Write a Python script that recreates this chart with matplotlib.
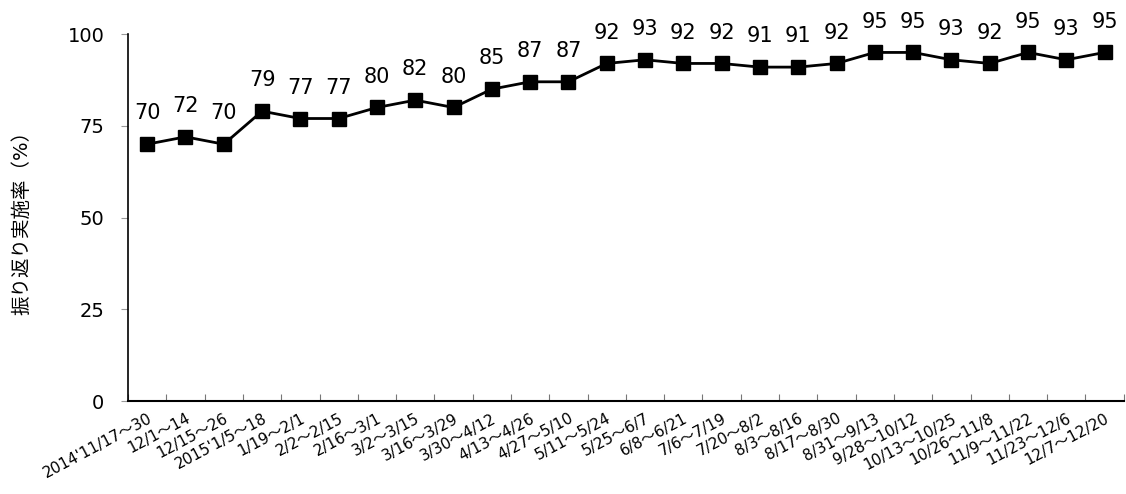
import matplotlib
matplotlib.use("Agg")
import matplotlib.pyplot as plt

plt.rcParams["font.family"] = ["DejaVu Sans", "Noto Sans CJK JP"]

# two-week periods and the share of reviews carried out
periods = ["2014'11/17～30", "12/1～14", "12/15～26", "2015'1/5～18", "1/19～2/1",
           "2/2～2/15", "2/16～3/1", "3/2～3/15", "3/16～3/29", "3/30～4/12",
           "4/13～4/26", "4/27～5/10", "5/11～5/24", "5/25～6/7", "6/8～6/21",
           "7/6～7/19", "7/20～8/2", "8/3～8/16", "8/17～8/30", "8/31～9/13",
           "9/28～10/12", "10/13～10/25", "10/26～11/8", "11/9～11/22",
           "11/23～12/6", "12/7～12/20"]
rate = [70, 72, 70, 79, 77, 77, 80, 82, 80, 85, 87, 87, 92, 93, 92, 92, 91, 91,
        92, 95, 95, 93, 92, 95, 93, 95]

fig = plt.figure(figsize=(11.26, 4.94), dpi=100)
ax = fig.add_axes([0.1137, 0.188, 0.8843, 0.743])

x = list(range(len(periods)))
ax.plot(x, rate, color="black", lw=2, marker="s", markersize=10)
for xi, v in zip(x, rate):
    ax.annotate(str(v), (xi, v), xytext=(0, 15), textcoords="offset points",
                ha="center", va="bottom", fontsize=15)

ax.set_xlim(-0.5, len(periods) - 0.5)
ax.set_ylim(0, 100)
ax.set_yticks([0, 25, 50, 75, 100])
ax.tick_params(axis="y", direction="out", length=5, color="#999999", labelsize=14, pad=12)

# category boundaries as inward ticks, labels centred on each period
ax.set_xticks([i - 0.5 for i in range(len(periods) + 1)], minor=False)
ax.set_xticklabels([])
ax.tick_params(axis="x", which="major", direction="in", length=5, color="#777777")
ax.set_xticks(x, minor=True)
ax.set_xticklabels(periods, minor=True, rotation=28, ha="right",
                   rotation_mode="anchor", fontsize=11)
ax.tick_params(axis="x", which="minor", length=0, pad=7)

for side in ["top", "right"]:
    ax.spines[side].set_visible(False)
ax.spines["left"].set_linewidth(1.2)
ax.spines["bottom"].set_linewidth(1.5)

ax.set_ylabel("振り返り実施率（%）", fontsize=14, labelpad=26)

fig.savefig("out.png", dpi=100)
